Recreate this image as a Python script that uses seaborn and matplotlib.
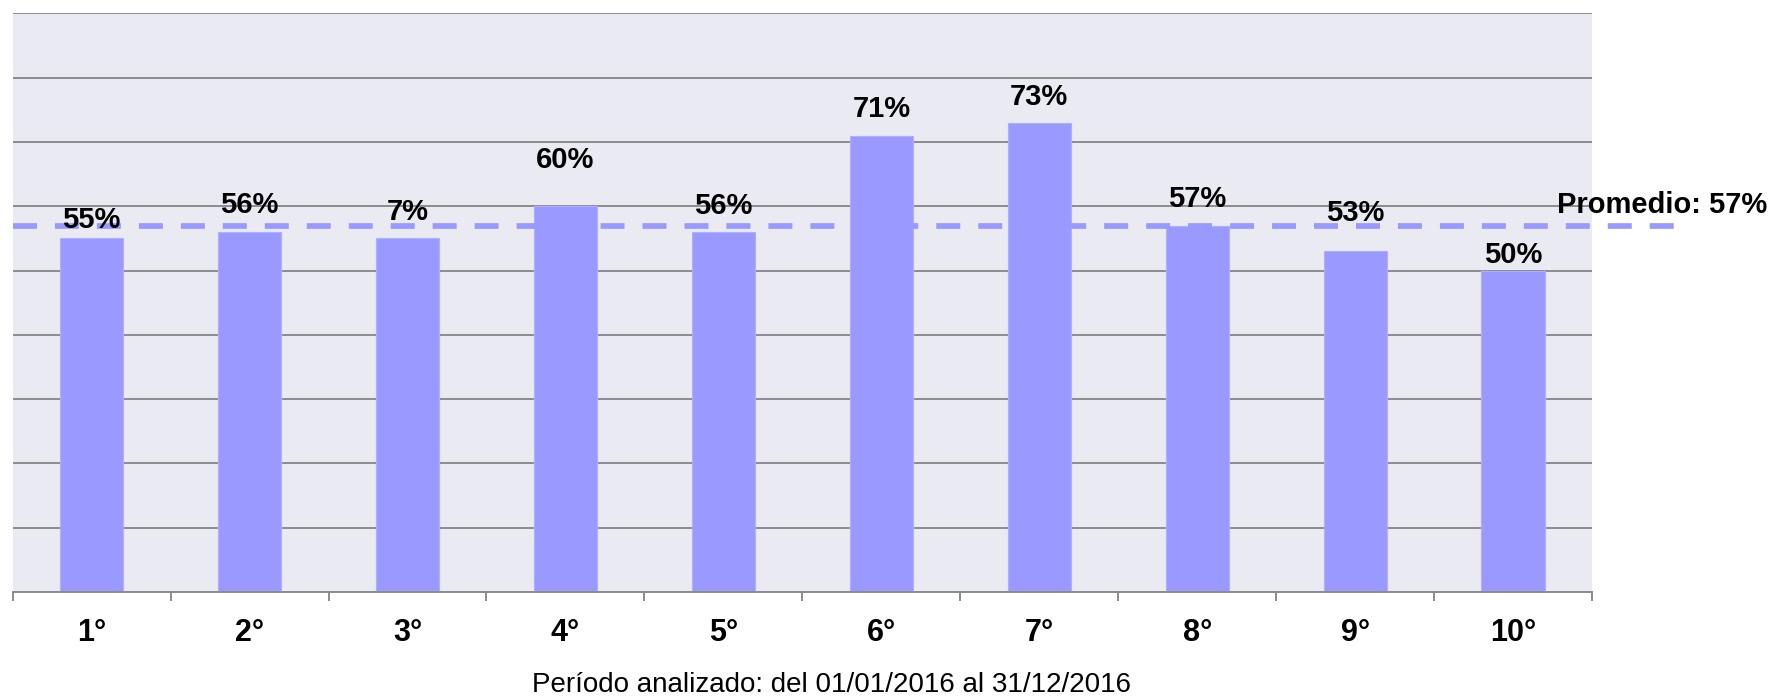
import matplotlib
matplotlib.use("Agg")
import matplotlib.pyplot as plt
import seaborn as sns
import pandas as pd

# Data
categories = ["1°", "2°", "3°", "4°", "5°", "6°", "7°", "8°", "9°", "10°"]
values = [55, 56, 55, 60, 56, 71, 73, 57, 53, 50]
value_labels = ["55%", "56%", "7%", "60%", "56%", "71%", "73%", "57%", "53%", "50%"]
average = 57
average_label = f"Promedio: {average}%"
footer_text = "Período analizado: del 01/01/2016 al 31/12/2016"
y_ticks = [0, 10, 20, 30, 40, 50, 60, 70, 80, 90]

# Vertical placement of each value label above its bar (pixels)
label_offsets = [10, 18.6, 18, 38, 17.7, 18.4, 18, 18.3, 30.7, 7.3]

BAR_COLOR = "#9999FF"
GRID_COLOR = "#8C8C8C"
W, H, DPI = 1773, 696, 100

sns.set_theme(style="darkgrid")
plt.rcParams["font.family"] = ["Liberation Sans", "DejaVu Sans"]

df = pd.DataFrame({"puesto": categories, "valor": values})

fig = plt.figure(figsize=(W / DPI, H / DPI), dpi=DPI)
fig.patch.set_facecolor("white")
left, right, top, bottom = 12.7, 1592, 13.4, 592
ax = fig.add_axes([left / W, 1 - bottom / H, (right - left) / W, (bottom - top) / H])
ax.set_facecolor("#EAEAF2")

sns.barplot(data=df, x="puesto", y="valor", color=BAR_COLOR, saturation=1,
            width=0.4, edgecolor="#AFAFFF", linewidth=0.8, ax=ax, zorder=2)

ax.set_xlim(-0.5, len(categories) - 0.5)
ax.set_ylim(y_ticks[0], y_ticks[-1])
ax.set_yticks(y_ticks)
ax.set_yticklabels([])
ax.tick_params(axis="y", length=0)
ax.yaxis.grid(True, color=GRID_COLOR, linewidth=1.4)
ax.xaxis.grid(False)
ax.set_axisbelow(True)
ax.set_xlabel("")
ax.set_ylabel("")

for side in ["left", "right", "top"]:
    ax.spines[side].set_visible(False)
ax.spines["bottom"].set_visible(True)
ax.spines["bottom"].set_color(GRID_COLOR)
ax.spines["bottom"].set_linewidth(1.4)

# Category labels centred under bars, separator ticks between categories
ax.set_xticks(range(len(categories)))
ax.set_xticklabels(categories, fontsize=22, fontweight="bold")
ax.tick_params(axis="x", which="major", length=0, pad=18.5, colors="black")
ax.set_xticks([i - 0.5 for i in range(len(categories) + 1)], minor=True)
ax.tick_params(axis="x", which="minor", bottom=True, length=6.2, width=1.4,
               color=GRID_COLOR, direction="out")

# Value labels above bars
for i, (v, txt, off) in enumerate(zip(values, value_labels, label_offsets)):
    ax.annotate(txt, (i, v), xytext=(0, off), textcoords="offset pixels",
                ha="center", va="baseline", fontsize=21, fontweight="bold",
                color="black", zorder=5, annotation_clip=False)

# Average line, extending past the plot area
line_end = len(categories) + 0.03
ax.plot([-0.5, line_end], [average, average], color=BAR_COLOR, linewidth=4.1,
        dashes=(4.21, 3.16), dash_capstyle="butt", clip_on=False, zorder=4)
ax.annotate(average_label, (line_end, average), xytext=(91.6, 12.4),
            textcoords="offset pixels", ha="right", va="baseline",
            fontsize=21, fontweight="bold", color="black",
            annotation_clip=False, zorder=5)

fig.text(831 / W, 1 - 692.5 / H, footer_text, ha="center", va="baseline",
         fontsize=20, color="black")

fig.savefig("out.png", dpi=DPI, facecolor="white")
